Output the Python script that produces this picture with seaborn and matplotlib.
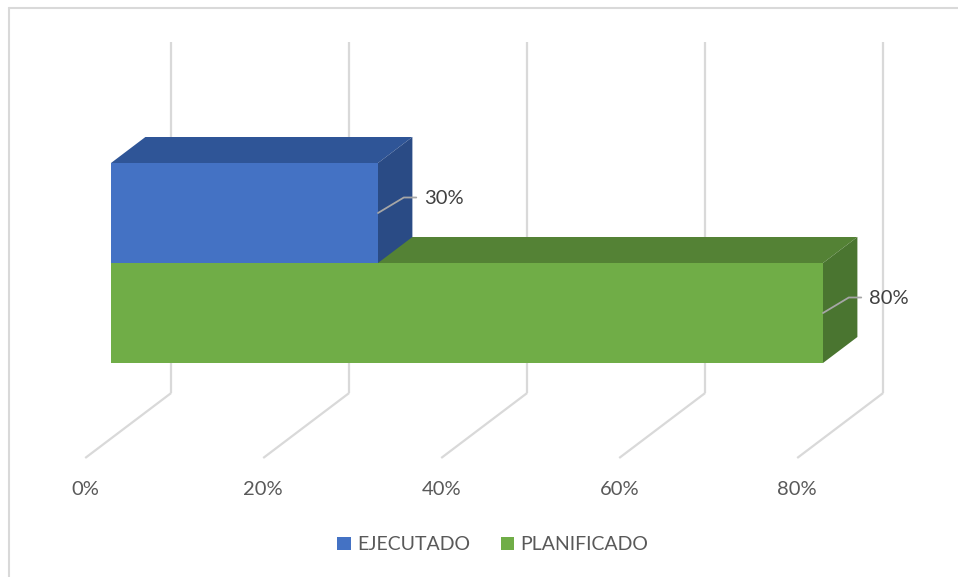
import matplotlib
matplotlib.use('Agg')
import matplotlib.pyplot as plt
from matplotlib.patches import Polygon, Patch
from matplotlib.lines import Line2D
import seaborn as sns
import pandas as pd

# data
categories = ['EJECUTADO', 'PLANIFICADO']
values = [30, 80]
tick_values = [0, 20, 40, 60, 80]

front_colors = ['#4472C4', '#70AD47']
top_colors = ['#2F5597', '#548235']
side_colors = ['#2A4B85', '#4A7530']
text_color = '#595959'
grid_color = '#D9D9D9'

sns.set_theme(style='white')
plt.rcParams['font.family'] = ['Lato', 'DejaVu Sans']

df = pd.DataFrame({'Estado': categories, 'Valor': values})

fig = plt.figure(figsize=(9.58, 5.77), dpi=100)
ax = fig.add_axes([0, 0, 1, 1])
sns.barplot(data=df, x='Valor', y='Estado', hue='Estado', palette=front_colors,
            orient='h', width=1.0, saturation=1, legend=False, ax=ax)
for p in ax.patches:
    p.set_linewidth(0)
    p.set_zorder(3)

# pixel-like layout: 8.9 px per percent, 100 px per category
ax.set_xlim(-111 / 8.9, (958 - 111) / 8.9)
ax.set_ylim((577 - 213) / 100, -213 / 100)
ax.axis('off')

# fake 3d: depth 0 = front of floor, 1 = back wall, bars sit in 0.3..0.7
DX, DY = 9.66, -0.65
D_FRONT, D_BACK = 0.3, 0.7
FLOOR = 2.255
WALL_TOP = -1.255


def proj(v, c, d):
    return v + (d - D_FRONT) * DX, c + (d - D_FRONT) * DY


# back wall gridlines + floor lines
for t in tick_values:
    x0, y0 = proj(t, FLOOR, 1)
    x1, y1 = proj(t, WALL_TOP, 1)
    x2, y2 = proj(t, FLOOR, 0)
    ax.plot([x0, x1], [y0, y1], color=grid_color, lw=1.6, zorder=1, solid_capstyle='butt')
    ax.plot([x0, x2], [y0, y2], color=grid_color, lw=1.6, zorder=1, solid_capstyle='butt')
    ax.text(x2, y2 + 0.32, f'{t}%', ha='center', va='center', fontsize=14.5, color=text_color)

# top and side faces of the bars
for i, v in enumerate(values):
    z = 4 if i == 0 else 2
    top = [proj(0, i - 0.5, D_FRONT), proj(v, i - 0.5, D_FRONT),
           proj(v, i - 0.5, D_BACK), proj(0, i - 0.5, D_BACK)]
    side = [proj(v, i - 0.5, D_FRONT), proj(v, i + 0.5, D_FRONT),
            proj(v, i + 0.5, D_BACK), proj(v, i - 0.5, D_BACK)]
    ax.add_patch(Polygon(top, closed=True, facecolor=top_colors[i], lw=0, zorder=z))
    ax.add_patch(Polygon(side, closed=True, facecolor=side_colors[i], lw=0, zorder=z))

    # data label with leader line
    ax.plot([v, v + 2.9, v + 4.3], [i, i - 0.155, i - 0.155],
            color='#A6A6A6', lw=1.3, zorder=5)
    ax.text(v + 5.2, i - 0.14, f'{v}%', ha='left', va='center',
            fontsize=14.5, color='#404040', zorder=6)

# legend
handles = [Patch(facecolor=c, edgecolor='none', label=l)
           for c, l in zip(front_colors, categories)]
fig.legend(handles=handles, loc='center', bbox_to_anchor=(493 / 958, 1 - 545 / 577),
           ncol=2, frameon=False, fontsize=14, labelcolor=text_color,
           handlelength=0.68, handleheight=0.68, handletextpad=0.35, columnspacing=1.55)

# chart area border (only top and left visible)
fig.add_artist(Line2D([8.5 / 958, 8.5 / 958], [0, 1 - 7.5 / 577], color=grid_color, lw=1.5))
fig.add_artist(Line2D([8.5 / 958, 1], [1 - 7.5 / 577, 1 - 7.5 / 577], color=grid_color, lw=1.5))

fig.savefig('out.png', dpi=100)
